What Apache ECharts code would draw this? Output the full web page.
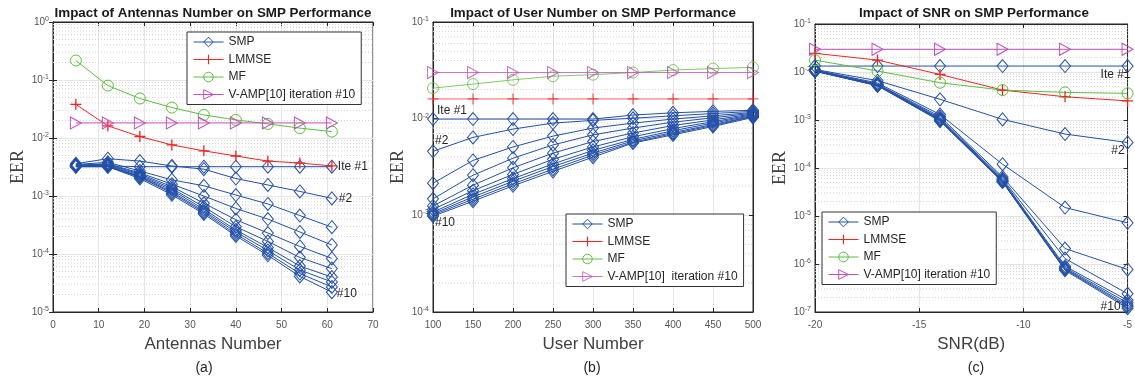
<!DOCTYPE html>
<html><head><meta charset="utf-8">
<script src="https://cdn.jsdelivr.net/npm/echarts@6/dist/echarts.min.js"></script>
<style>html,body{margin:0;padding:0;background:#fff}#c{width:1135px;height:381px}</style>
</head><body><div id="c"></div>
<script>
// ---------- Panel (a): Antennas Number ----------
const xA = [5, 12, 19, 26, 33, 40, 47, 54, 61];
const smpA = [
  [3.3e-3, 3.3e-3, 3.2e-3, 3.2e-3, 3.2e-3, 3.2e-3, 3.2e-3, 3.2e-3, 3.2e-3],
  [3.6e-3, 4.4e-3, 4.0e-3, 3.3e-3, 2.9e-3, 2.0e-3, 1.55e-3, 1.2e-3, 9.1e-4],
  [3.5e-3, 3.8e-3, 2.7e-3, 1.9e-3, 1.5e-3, 1.04e-3, 7.3e-4, 4.6e-4, 2.9e-4],
  [3.4e-3, 3.6e-3, 2.5e-3, 1.6e-3, 1.0e-3, 6.1e-4, 4.0e-4, 2.4e-4, 1.43e-4],
  [3.4e-3, 3.5e-3, 2.4e-3, 1.45e-3, 7.5e-4, 3.9e-4, 2.3e-4, 1.35e-4, 8.4e-5],
  [3.3e-3, 3.4e-3, 2.3e-3, 1.35e-3, 6.5e-4, 2.95e-4, 1.65e-4, 8.7e-5, 5.6e-5],
  [3.3e-3, 3.3e-3, 2.2e-3, 1.27e-3, 5.9e-4, 2.6e-4, 1.3e-4, 6.2e-5, 4.0e-5],
  [3.3e-3, 3.3e-3, 2.15e-3, 1.18e-3, 5.5e-4, 2.4e-4, 1.15e-4, 5.3e-5, 3.3e-5],
  [3.2e-3, 3.2e-3, 2.1e-3, 1.12e-3, 5.2e-4, 2.2e-4, 1.03e-4, 4.6e-5, 2.7e-5],
  [3.2e-3, 3.2e-3, 2.0e-3, 1.05e-3, 4.9e-4, 2.05e-4, 9.5e-5, 4.1e-5, 2.2e-5]
];
const lmmseA = [3.8e-2, 1.62e-2, 1.06e-2, 7.6e-3, 6.0e-3, 4.9e-3, 4.0e-3, 3.7e-3, 3.3e-3];
const mfA = [0.217, 0.080, 0.048, 0.0335, 0.025, 0.0205, 0.0175, 0.0148, 0.0129];
const vampA = [0.0182, 0.0182, 0.0182, 0.0182, 0.0182, 0.0182, 0.0182, 0.0182, 0.0182];

// ---------- Panel (b): User Number ----------
const xB = [100, 150, 200, 250, 300, 350, 400, 450, 500];
const smpB = [
  [9.9e-3, 9.9e-3, 9.9e-3, 9.9e-3, 9.9e-3, 0.0109, 0.0115, 0.0119, 0.0122],
  [4.6e-3, 6.4e-3, 7.8e-3, 9.0e-3, 9.6e-3, 0.0101, 0.0107, 0.0113, 0.0119],
  [2.15e-3, 3.7e-3, 5.1e-3, 6.6e-3, 8.0e-3, 0.0090, 0.0099, 0.0107, 0.0116],
  [1.48e-3, 2.6e-3, 3.9e-3, 5.35e-3, 6.8e-3, 0.0080, 0.0092, 0.0102, 0.0114],
  [1.25e-3, 2.05e-3, 3.1e-3, 4.4e-3, 5.8e-3, 0.0071, 0.0085, 0.0097, 0.0112],
  [1.15e-3, 1.8e-3, 2.65e-3, 3.8e-3, 5.1e-3, 0.0065, 0.0079, 0.0093, 0.0110],
  [1.08e-3, 1.65e-3, 2.4e-3, 3.4e-3, 4.7e-3, 0.0061, 0.0075, 0.0090, 0.0108],
  [1.04e-3, 1.55e-3, 2.25e-3, 3.2e-3, 4.4e-3, 0.0059, 0.0072, 0.0087, 0.0106],
  [1.01e-3, 1.47e-3, 2.12e-3, 3.0e-3, 4.2e-3, 0.0057, 0.0070, 0.0085, 0.0105],
  [0.98e-3, 1.4e-3, 2.02e-3, 2.85e-3, 4.0e-3, 0.0056, 0.0068, 0.0083, 0.0103]
];
const lmmseB = [0.016, 0.016, 0.016, 0.016, 0.016, 0.016, 0.016, 0.016, 0.016];
const mfB = [0.0207, 0.0228, 0.0252, 0.0275, 0.0285, 0.030, 0.0318, 0.033, 0.0339];
const vampB = [0.030, 0.030, 0.030, 0.030, 0.030, 0.030, 0.030, 0.030, 0.030];

// ---------- Panel (c): SNR ----------
const xC = [-20, -17, -14, -11, -8, -5];
const smpC = [
  [0.0133, 0.0133, 0.0133, 0.0133, 0.0133, 0.0133],
  [0.0113, 6.6e-3, 2.7e-3, 1.03e-3, 5.1e-4, 3.4e-4],
  [0.0110, 5.9e-3, 1.3e-3, 1.2e-4, 1.5e-5, 7.2e-6],
  [0.0108, 5.6e-3, 1.18e-3, 6.5e-5, 2.1e-6, 7.7e-7],
  [0.0107, 5.5e-3, 1.1e-3, 6.0e-5, 1.3e-6, 2.4e-7],
  [0.0106, 5.4e-3, 1.05e-3, 5.7e-5, 9.0e-7, 1.75e-7],
  [0.0105, 5.3e-3, 1.02e-3, 5.5e-5, 8.4e-7, 1.55e-7],
  [0.0105, 5.25e-3, 1.0e-3, 5.3e-5, 8.0e-7, 1.4e-7],
  [0.0104, 5.2e-3, 9.7e-4, 5.2e-5, 7.7e-7, 1.3e-7],
  [0.0104, 5.2e-3, 9.5e-4, 5.1e-5, 7.4e-7, 1.2e-7]
];
const lmmseC = [0.0245, 0.0177, 8.9e-3, 4.2e-3, 3.05e-3, 2.5e-3];
const mfC = [0.0177, 0.0105, 5.97e-3, 4.2e-3, 3.76e-3, 3.59e-3];
const vampC = [0.0297, 0.0297, 0.0297, 0.0297, 0.0297, 0.0297];

const xTicksA = [0, 70, 10];
const xTicksB = [100, 500, 50];
const xTicksC = [-20, -5, 5];
const titles = ['Impact of Antennas Number on SMP Performance', 'Impact of User Number on SMP Performance', 'Impact of SNR on SMP Performance'];
const xNames = ['Antennas Number', 'User Number', 'SNR(dB)'];
const subLabels = ['(a)', '(b)', '(c)'];
const legendNamesAC = ['SMP', 'LMMSE', 'MF', 'V-AMP[10] iteration #10'];
const legendNamesB = ['SMP', 'LMMSE', 'MF', 'V-AMP[10]  iteration #10'];

// ---------- styling ----------
const FF = "'Liberation Sans', Arial, Helvetica, sans-serif";
const BLUE = '#2350a8', RED = '#f22424', GREEN = '#5bc03d', MAG = '#c44fb9';
const CLEAR = 'rgba(255,255,255,0)';
const ST = {
  smp:   {color: BLUE, symbol: 'diamond', size: [11, 13], fill: CLEAR, border: BLUE, bw: 1},
  lmmse: {color: RED, symbol: 'path://M4.4,0H5.6V10H4.4ZM0,4.4H10V5.6H0Z', size: 11, fill: RED, border: CLEAR, bw: 0},
  mf:    {color: GREEN, symbol: 'circle', size: 11, fill: CLEAR, border: GREEN, bw: 1},
  vamp:  {color: MAG, symbol: 'path://M0,0L10,5L0,10Z', size: [11, 12], fill: CLEAR, border: MAG, bw: 1}
};

function S(name, gi, xs, ys, kind, lab, op) {
  const st = ST[kind];
  return {
    type: 'line', name: name, xAxisIndex: gi, yAxisIndex: gi,
    data: xs.map((x, i) => {
      const d = {value: [x, ys[i]]};
      if (lab && lab.i === i) d.label = {show: true, formatter: lab.t, position: lab.p, offset: lab.o,
        fontSize: 12, color: '#262626', fontFamily: FF};
      return d;
    }),
    symbol: st.symbol, symbolSize: st.size, showAllSymbol: true,
    lineStyle: {color: st.color, width: 1, opacity: op || 1},
    itemStyle: {color: st.fill, borderColor: st.border, borderWidth: st.bw, opacity: op || 1},
    emphasis: {disabled: true}, silent: true, animation: false, z: 3
  };
}
const xRanges = [xTicksA, xTicksB, xTicksC];
const yRanges = [[1e-5, 1], [1e-4, 1e-1], [1e-7, 1e-1]];
function minorLines(gi) {
  const out = [];
  const lo = Math.round(Math.log10(yRanges[gi][0])), hi = Math.round(Math.log10(yRanges[gi][1]));
  const x0 = xRanges[gi][0], x1 = xRanges[gi][1];
  for (let e = lo; e < hi; e++) for (let k = 2; k <= 9; k++) {
    const v = k * Math.pow(10, e);
    out.push({type: 'line', xAxisIndex: gi, yAxisIndex: gi, data: [[x0, v], [x1, v]],
      symbol: 'none', silent: true, animation: false, z: 1,
      lineStyle: {color: '#d2d2d2', type: [1, 2], width: 1}});
  }
  return out;
}

const gridsPos = [
  {left: 53, top: 22, width: 320, height: 290},
  {left: 433, top: 22, width: 320, height: 290},
  {left: 815, top: 24, width: 318, height: 288}
];

const axisCommon = {
  axisLine: {show: true, lineStyle: {color: '#262626', width: 1}},
  axisTick: {show: true, inside: true, length: 4, lineStyle: {color: '#262626'}}
};
const xAxes = [], yAxes = [];
for (let g = 0; g < 3; g++) {
  const r = xRanges[g];
  xAxes.push(Object.assign({}, axisCommon, {
    type: 'value', gridIndex: g, min: r[0], max: r[1], interval: r[2],
    name: xNames[g], nameLocation: 'middle', nameGap: 24,
    nameTextStyle: {fontSize: 17, color: '#404040', fontFamily: FF},
    axisLabel: {fontSize: 10, color: '#555', fontFamily: FF, margin: 8, showMaxLabel: true, showMinLabel: true},
    splitLine: {show: true, lineStyle: {color: '#e4e4e4', width: 1}}
  }));
  yAxes.push(Object.assign({}, axisCommon, {
    type: 'log', logBase: 10, gridIndex: g, min: yRanges[g][0], max: yRanges[g][1],
    splitNumber: Math.round(Math.log10(yRanges[g][1] / yRanges[g][0])),
    name: 'EER', nameLocation: 'middle', nameGap: 25,
    nameTextStyle: {fontSize: 18, color: '#404040', fontFamily: "'Liberation Serif', 'Times New Roman', serif"},
    axisLabel: {margin: 4, fontFamily: FF,
      formatter: v => '{b|10}{s|' + Math.round(Math.log10(v)) + '}',
      rich: {b: {fontSize: 10, color: '#555', fontFamily: FF},
             s: {fontSize: 7, color: '#555', fontFamily: FF, verticalAlign: 'top', padding: [0, 0, 6, 0]}}},
    splitLine: {show: true, lineStyle: {color: '#e4e4e4', width: 1}}
  }));
}
for (let g = 0; g < 3; g++) {
  const r = xRanges[g];
  xAxes.push(Object.assign({}, axisCommon, {type: 'value', gridIndex: g, position: 'top', min: r[0], max: r[1], interval: r[2],
    axisLabel: {show: false}, splitLine: {show: false}}));
  yAxes.push(Object.assign({}, axisCommon, {type: 'log', logBase: 10, gridIndex: g, position: 'right',
    min: yRanges[g][0], max: yRanges[g][1], splitNumber: Math.round(Math.log10(yRanges[g][1] / yRanges[g][0])),
    axisLabel: {show: false}, splitLine: {show: false}}));
}

const series = [].concat(minorLines(0), minorLines(1), minorLines(2));
smpA.forEach((ys, k) => {
  let lab = null;
  if (k === 0) lab = {i: 8, t: 'Ite #1', p: 'right', o: [-5, 0]};
  if (k === 1) lab = {i: 8, t: '#2', p: 'right', o: [-4, 0]};
  if (k === 9) lab = {i: 8, t: '#10', p: 'right', o: [-6, 2]};
  series.push(S('SMP', 0, xA, ys, 'smp', lab));
});
series.push(S('LMMSE', 0, xA, lmmseA, 'lmmse'));
series.push(S('MF', 0, xA, mfA, 'mf'));
series.push(S(legendNamesAC[3], 0, xA, vampA, 'vamp'));

smpB.forEach((ys, k) => {
  let lab = null;
  if (k === 0) lab = {i: 0, t: 'Ite #1', p: 'right', o: [-7, -8]};
  if (k === 1) lab = {i: 0, t: '#2', p: 'right', o: [-9, -11]};
  if (k === 9) lab = {i: 0, t: '#10', p: 'right', o: [-9, 7]};
  series.push(S('SMP', 1, xB, ys, 'smp', lab));
});
series.push(S('LMMSE', 1, xB, lmmseB, 'lmmse', null, 0.7));
series.push(S('MF', 1, xB, mfB, 'mf', null, 0.8));
series.push(S(legendNamesB[3], 1, xB, vampB, 'vamp', null, 0.8));

smpC.forEach((ys, k) => {
  let lab = null;
  if (k === 0) lab = {i: 5, t: 'Ite #1', p: 'left', o: [14, 9]};
  if (k === 1) lab = {i: 5, t: '#2', p: 'left', o: [8, 8]};
  if (k === 9) lab = {i: 5, t: '#10', p: 'left', o: [4, -2]};
  series.push(S('SMP', 2, xC, ys, 'smp', lab));
});
series.push(S('LMMSE', 2, xC, lmmseC, 'lmmse'));
series.push(S('MF', 2, xC, mfC, 'mf'));
series.push(S(legendNamesAC[3], 2, xC, vampC, 'vamp'));

const legendCommon = {
  orient: 'vertical', selectedMode: false, backgroundColor: '#fff',
  borderColor: '#333', borderWidth: 1, borderRadius: 0, padding: [4, 6],
  itemWidth: 30, itemHeight: 12, itemGap: 5.5,
  itemStyle: {borderWidth: 1}, lineStyle: {width: 1},
  textStyle: {fontSize: 12, color: '#262626', fontFamily: FF}
};
const legends = [
  Object.assign({}, legendCommon, {left: 187, top: 32, data: legendNamesAC}),
  Object.assign({}, legendCommon, {left: 566, top: 214, data: legendNamesB}),
  Object.assign({}, legendCommon, {left: 822, top: 212, data: legendNamesAC})
];

const centers = [213, 593, 974];
const graphics = [];
for (let g = 0; g < 3; g++) {
  graphics.push({type: 'text', x: centers[g], y: 13, silent: true,
    style: {text: titles[g], align: 'center', verticalAlign: 'middle', font: 'bold 13.4px ' + FF, fill: '#1a1a1a'}});
  graphics.push({type: 'text', x: [204, 592, 976][g], y: 368, silent: true,
    style: {text: subLabels[g], align: 'center', verticalAlign: 'middle', font: '14px ' + FF, fill: '#262626'}});
}

const chart = echarts.init(document.getElementById('c'), null, {renderer: 'canvas'});
chart.setOption({
  animation: false,
  backgroundColor: '#fff',
  grid: gridsPos.map(p => Object.assign({show: true, borderColor: '#262626', borderWidth: 1, backgroundColor: 'transparent'}, p)),
  xAxis: xAxes, yAxis: yAxes,
  legend: legends,
  graphic: graphics,
  series: series
});
</script></body></html>
